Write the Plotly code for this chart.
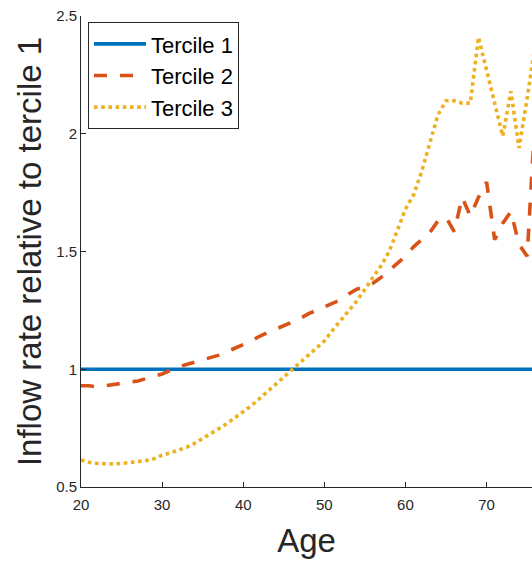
import plotly.graph_objects as go

ages = list(range(20, 77))

tercile1 = [1.0] * len(ages)

tercile2 = [0.93, 0.93, 0.925, 0.93, 0.935, 0.94, 0.945, 0.95, 0.96, 0.97,
            0.98, 0.995, 1.01, 1.02, 1.03, 1.04, 1.05, 1.06, 1.075, 1.09,
            1.105, 1.12, 1.14, 1.155, 1.17, 1.185, 1.2, 1.215, 1.235, 1.25,
            1.265, 1.28, 1.295, 1.32, 1.34, 1.35, 1.365, 1.39, 1.42, 1.455,
            1.48, 1.52, 1.55, 1.58, 1.63, 1.645, 1.585, 1.73, 1.65, 1.73,
            1.795, 1.55, 1.62, 1.67, 1.53, 1.48, 2.08]

tercile3 = [0.615, 0.605, 0.60, 0.598, 0.598, 0.60, 0.603, 0.607, 0.612, 0.62,
            0.635, 0.645, 0.655, 0.668, 0.685, 0.705, 0.725, 0.748, 0.77, 0.795,
            0.82, 0.845, 0.875, 0.905, 0.935, 0.965, 0.995, 1.025, 1.055, 1.09,
            1.12, 1.165, 1.205, 1.25, 1.29, 1.34, 1.39, 1.44, 1.50, 1.59,
            1.68, 1.74, 1.84, 1.96, 2.08, 2.14, 2.14, 2.13, 2.13, 2.41,
            2.27, 2.13, 1.99, 2.18, 1.94, 2.15, 2.38]

series = [
    ("Tercile 1", tercile1, "#0072BD", "solid"),
    ("Tercile 2", tercile2, "#D95319", "13px,13px"),
    ("Tercile 3", tercile3, "#EDB120", "dot"),
]

fig = go.Figure()
for name, vals, color, dash in series:
    fig.add_trace(go.Scatter(
        x=ages, y=vals, name=name, mode="lines",
        line=dict(color=color, width=3.6, dash=dash),
    ))

axis_color = "#262626"
font_family = "Liberation Sans, Arial, sans-serif"

fig.update_layout(
    width=532, height=561,
    margin=dict(l=81, r=0, t=16, b=74),
    paper_bgcolor="white", plot_bgcolor="white",
    font=dict(family=font_family, color=axis_color),
    showlegend=True,
    legend=dict(
        x=0.0155, y=0.987, xanchor="left", yanchor="top",
        bgcolor="white", bordercolor=axis_color, borderwidth=1,
        font=dict(size=22, color="black", family=font_family),
        tracegroupgap=0, itemwidth=52,
    ),
    xaxis=dict(
        range=[20, 75.6], tickvals=[20, 30, 40, 50, 60, 70],
        ticks="inside", ticklen=5, tickcolor=axis_color,
        showline=True, linecolor=axis_color, linewidth=1,
        showgrid=False, zeroline=False, automargin=False,
        ticklabelstandoff=4,
        tickfont=dict(size=15, color=axis_color),
        title=dict(text="Age", font=dict(size=33, color=axis_color), standoff=16),
    ),
    yaxis=dict(
        range=[0.5, 2.5], tickvals=[0.5, 1, 1.5, 2, 2.5],
        ticktext=["0.5", "1", "1.5", "2", "2.5"],
        ticks="inside", ticklen=5, tickcolor=axis_color,
        showline=True, linecolor=axis_color, linewidth=1,
        showgrid=False, zeroline=False, automargin=False,
        tickfont=dict(size=15, color=axis_color),
        title=dict(text="Inflow rate relative to tercile 1",
                   font=dict(size=33, color=axis_color), standoff=4),
    ),
)

fig.write_html("out.html", config={"displayModeBar": False},
               post_script="document.body.style.margin='0';")
